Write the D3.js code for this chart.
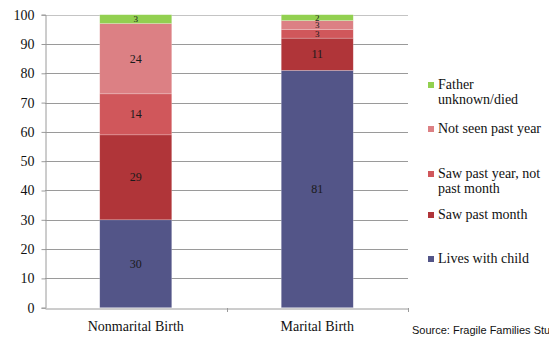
<!DOCTYPE html>
<html>
<head>
<meta charset="utf-8">
<script src="https://cdn.jsdelivr.net/npm/d3@7"></script>
<style>
  html, body { margin: 0; padding: 0; background: #fff; }
  svg { display: block; }
</style>
</head>
<body>
<svg id="chart" width="549" height="337"></svg>
<script>
// Birth type categories and the father-contact shares (percent) stacked per bar
const categories = ["Nonmarital Birth", "Marital Birth"];
const seriesNames = ["Lives with child", "Saw past month", "Saw past year, not past month", "Not seen past year", "Father unknown/died"];
const livesWithChild = [30, 81];
const sawPastMonth = [29, 11];
const sawPastYear = [14, 3];
const notSeenPastYear = [24, 3];
const unknownDied = [3, 2];
const yTicks = [0, 10, 20, 30, 40, 50, 60, 70, 80, 90, 100];
const legendLabels = [["Father", "unknown/died"], ["Not seen past year"], ["Saw past year, not", "past month"], ["Saw past month"], ["Lives with child"]];
const colors = ["#535588", "#b03539", "#d0575b", "#dc8084", "#92d050"];

const seriesValues = [livesWithChild, sawPastMonth, sawPastYear, notSeenPastYear, unknownDied];
const rows = categories.map((c, i) => {
  const r = { category: c };
  seriesNames.forEach((s, j) => r[s] = seriesValues[j][i]);
  return r;
});

const svg = d3.select("#chart");
const margin = { left: 45, right: 141, top: 14.7, bottom: 29.3 };
const W = 549, H = 337;
const serif = '"Liberation Serif", "DejaVu Serif", serif';

const x = d3.scaleBand().domain(categories).range([margin.left, W - margin.right]).paddingInner(0).paddingOuter(0);
const y = d3.scaleLinear().domain([0, 100]).range([H - margin.bottom, margin.top]);
const barW = 72;

// gridlines
svg.append("g").selectAll("line").data(yTicks.filter(t => t > 0)).join("line")
  .attr("x1", margin.left).attr("x2", W - margin.right)
  .attr("y1", d => Math.round(y(d)) + 0.5).attr("y2", d => Math.round(y(d)) + 0.5)
  .attr("stroke", d => d === 100 ? "#c4c4c4" : "#9a9a9a").attr("stroke-width", 1);

// stacked bars
const stack = d3.stack().keys(seriesNames)(rows);
const layers = svg.append("g").selectAll("g").data(stack).join("g")
  .attr("fill", (d, i) => colors[i]);
layers.selectAll("rect").data(d => d).join("rect")
  .attr("x", d => x(d.data.category) + x.bandwidth() / 2 - barW / 2)
  .attr("width", barW)
  .attr("y", d => y(d[1]))
  .attr("height", d => y(d[0]) - y(d[1]))
  .attr("stroke", "rgba(255,255,255,0.35)").attr("stroke-width", 0.6);

// value labels (smaller type for the thin segments at the top of the marital bar)
layers.each(function(layer) {
  d3.select(this).selectAll("text").data(layer).join("text")
    .attr("x", d => x(d.data.category) + x.bandwidth() / 2)
    .attr("y", d => (y(d[0]) + y(d[1])) / 2 + ((d[1] - d[0]) < 5 ? 3 : 4))
    .attr("text-anchor", "middle")
    .style("font-family", serif)
    .style("font-size", d => (d[1] - d[0]) < 5 ? "9px" : "12px")
    .attr("fill", "#1a1a1a")
    .text(d => d[1] - d[0]);
});

// y axis
const yAxis = svg.append("g").attr("transform", `translate(${margin.left + 0.5},0)`)
  .call(d3.axisLeft(y).tickValues(yTicks).tickSize(4).tickPadding(7));
yAxis.attr("font-family", null).attr("font-size", null);
yAxis.select(".domain").attr("stroke", "#9a9a9a");
yAxis.selectAll(".tick line").attr("stroke", "#9a9a9a");
yAxis.selectAll("text").style("font-family", serif).style("font-size", "14px").attr("fill", "#111");

// x axis
const xAxis = svg.append("g").attr("transform", `translate(0,${Math.round(y(0)) + 0.5})`)
  .call(d3.axisBottom(x).tickSize(0).tickPadding(13));
xAxis.attr("font-family", null).attr("font-size", null);
xAxis.select(".domain").attr("stroke", "#9a9a9a");
xAxis.selectAll("text").style("font-family", serif).style("font-size", "14px").attr("fill", "#111");
// category boundary ticks
svg.append("g").selectAll("line").data([x(categories[1]), W - margin.right]).join("line")
  .attr("x1", d => Math.round(d) + 0.5).attr("x2", d => Math.round(d) + 0.5)
  .attr("y1", Math.round(y(0))).attr("y2", Math.round(y(0)) + 4)
  .attr("stroke", "#9a9a9a");

// legend
const legendY = [89, 133, 178, 219, 263];
const order = [4, 3, 2, 1, 0];
const legend = svg.append("g");
order.forEach((si, k) => {
  const g = legend.append("g");
  g.append("rect").attr("x", 428).attr("y", legendY[k] - 7).attr("width", 6).attr("height", 6).attr("fill", colors[si]);
  const t = g.append("text").attr("x", 438).attr("y", legendY[k])
    .style("font-family", serif).style("font-size", "14px").attr("fill", "#111");
  legendLabels[k].forEach((line, li) => {
    t.append("tspan").attr("x", 438).attr("dy", li === 0 ? 0 : 15).text(line);
  });
});

// source note
svg.append("text").attr("x", 412).attr("y", 334)
  .style("font-family", '"Liberation Sans", Arial, sans-serif')
  .style("font-size", "11px").attr("fill", "#111")
  .text("Source: Fragile Families Study");
</script>
</body>
</html>
